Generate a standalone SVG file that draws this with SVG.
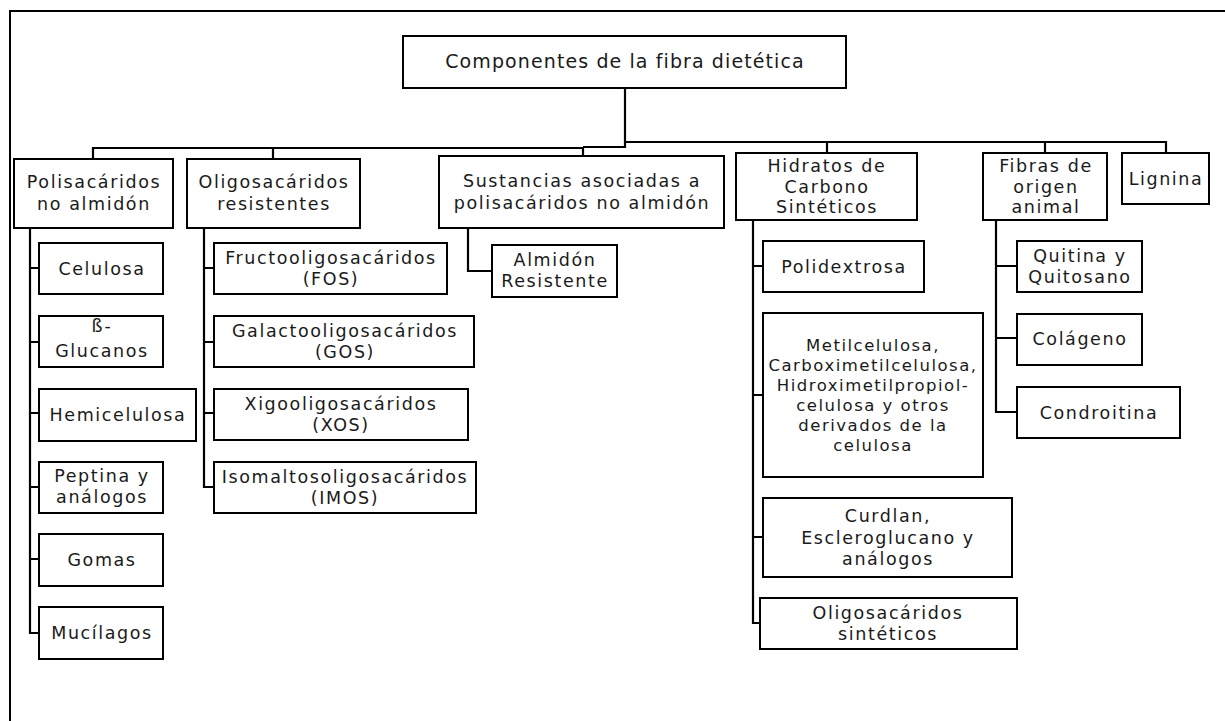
<svg xmlns="http://www.w3.org/2000/svg" width="1225" height="721" viewBox="0 0 1225 721">
<style>
  .bg { fill: #ffffff; }
  .frame { fill: none; stroke: #000; stroke-width: 2; }
  .box { fill: #ffffff; stroke: #000; stroke-width: 2; }
  .conn path { fill: none; stroke: #000; stroke-width: 2.2; }
  text { font-family: "DejaVu Sans", "Liberation Sans", sans-serif; font-size: 17.5px; letter-spacing: 1.6px; fill: #1a1a1a; text-anchor: middle; }
  .root text { font-size: 19px; letter-spacing: 1.1px; }
  .small { font-size: 16.5px; letter-spacing: 1.5px; }
</style>
<rect class="bg" x="0" y="0" width="1225" height="721"/>
<path class="frame" d="M1226,11 H10 V722"/>

<g id="connectors" class="conn">
  <path d="M625,88 V147 H583"/>
  <path d="M583,148 H93 V159"/>
  <path d="M583,147 V156"/>
  <path d="M273,148 V159"/>
  <path d="M625,142 H1166 V153"/>
  <path d="M827,142 V153"/>
  <path d="M1045,142 V153"/>
  <path d="M30,228 V633 H39"/>
  <path d="M30,268 H39 M30,342 H39 M30,413 H39 M30,487 H39 M30,559 H39"/>
  <path d="M204,228 V487 H214"/>
  <path d="M204,268 H214 M204,342 H214 M204,413 H214"/>
  <path d="M468,228 V271 H492"/>
  <path d="M753,220 V623 H760"/>
  <path d="M753,266 H763 M753,395 H763 M753,537 H763"/>
  <path d="M996,220 V412 H1017"/>
  <path d="M996,266 H1017 M996,338 H1017"/>
</g>

<g id="root" class="root">
  <rect class="box" x="403" y="36" width="443" height="52"/>
  <text x="625" y="68">Componentes de la fibra dietética</text>
</g>

<g id="polisacaridos">
  <rect class="box" x="14" y="159" width="159" height="69"/>
  <text x="94" y="188">Polisacáridos<tspan x="94" dy="22">no almidón</tspan></text>
</g>
<g id="oligosacaridos">
  <rect class="box" x="187" y="159" width="173" height="69"/>
  <text x="274" y="188">Oligosacáridos<tspan x="274" dy="22">resistentes</tspan></text>
</g>
<g id="sustancias">
  <rect class="box" x="439" y="156" width="285" height="72"/>
  <text x="582" y="187">Sustancias asociadas a<tspan x="582" dy="22">polisacáridos no almidón</tspan></text>
</g>
<g id="hidratos">
  <rect class="box" x="736" y="153" width="181" height="67"/>
  <text x="827" y="172">Hidratos de<tspan x="827" dy="20.5">Carbono</tspan><tspan x="827" dy="20.5">Sintéticos</tspan></text>
</g>
<g id="fibras-animal">
  <rect class="box" x="983" y="153" width="124" height="67"/>
  <text x="1046" y="172">Fibras de<tspan x="1046" dy="20.5">origen</tspan><tspan x="1046" dy="20.5">animal</tspan></text>
</g>
<g id="lignina">
  <rect class="box" x="1122" y="153" width="87" height="51"/>
  <text x="1166" y="185">Lignina</text>
</g>

<g id="celulosa">
  <rect class="box" x="39" y="243" width="124" height="51"/>
  <text x="102" y="275">Celulosa</text>
</g>
<g id="glucanos">
  <rect class="box" x="39" y="316" width="124" height="51"/>
  <text x="102" y="332">ß-<tspan x="102" dy="25">Glucanos</tspan></text>
</g>
<g id="hemicelulosa">
  <rect class="box" x="39" y="389" width="157" height="52"/>
  <text x="118" y="421">Hemicelulosa</text>
</g>
<g id="peptina">
  <rect class="box" x="39" y="462" width="124" height="51"/>
  <text x="102" y="482">Peptina y<tspan x="102" dy="21">análogos</tspan></text>
</g>
<g id="gomas">
  <rect class="box" x="39" y="534" width="124" height="52"/>
  <text x="102" y="566">Gomas</text>
</g>
<g id="mucilagos">
  <rect class="box" x="39" y="607" width="124" height="52"/>
  <text x="102" y="639">Mucílagos</text>
</g>

<g id="fos">
  <rect class="box" x="214" y="243" width="233" height="51"/>
  <text x="331" y="264">Fructooligosacáridos<tspan x="331" dy="21">(FOS)</tspan></text>
</g>
<g id="gos">
  <rect class="box" x="214" y="316" width="260" height="51"/>
  <text x="345" y="337">Galactooligosacáridos<tspan x="345" dy="21">(GOS)</tspan></text>
</g>
<g id="xos">
  <rect class="box" x="214" y="389" width="254" height="51"/>
  <text x="341" y="410">Xigooligosacáridos<tspan x="341" dy="21">(XOS)</tspan></text>
</g>
<g id="imos">
  <rect class="box" x="214" y="462" width="262" height="51"/>
  <text x="345" y="483">Isomaltosoligosacáridos<tspan x="345" dy="21">(IMOS)</tspan></text>
</g>

<g id="almidon">
  <rect class="box" x="492" y="245" width="125" height="52"/>
  <text x="555" y="266">Almidón<tspan x="555" dy="21">Resistente</tspan></text>
</g>

<g id="polidextrosa">
  <rect class="box" x="763" y="241" width="161" height="51"/>
  <text x="844" y="273">Polidextrosa</text>
</g>
<g id="metilcelulosa">
  <rect class="box" x="763" y="313" width="220" height="164"/>
  <text class="small" x="873" y="351">Metilcelulosa,<tspan x="873" dy="20">Carboximetilcelulosa,</tspan><tspan x="873" dy="20">Hidroximetilpropiol-</tspan><tspan x="873" dy="20">celulosa y otros</tspan><tspan x="873" dy="20">derivados de la</tspan><tspan x="873" dy="20">celulosa</tspan></text>
</g>
<g id="curdlan">
  <rect class="box" x="763" y="498" width="249" height="79"/>
  <text x="888" y="522">Curdlan,<tspan x="888" dy="21.5">Escleroglucano y</tspan><tspan x="888" dy="21.5">análogos</tspan></text>
</g>
<g id="oligo-sinteticos">
  <rect class="box" x="760" y="598" width="257" height="51"/>
  <text x="888" y="619">Oligosacáridos<tspan x="888" dy="21">sintéticos</tspan></text>
</g>

<g id="quitina">
  <rect class="box" x="1017" y="241" width="125" height="51"/>
  <text x="1080" y="262">Quitina y<tspan x="1080" dy="20.5">Quitosano</tspan></text>
</g>
<g id="colageno">
  <rect class="box" x="1017" y="314" width="125" height="51"/>
  <text x="1080" y="345">Colágeno</text>
</g>
<g id="condroitina">
  <rect class="box" x="1017" y="387" width="163" height="51"/>
  <text x="1099" y="419">Condroitina</text>
</g>
</svg>
